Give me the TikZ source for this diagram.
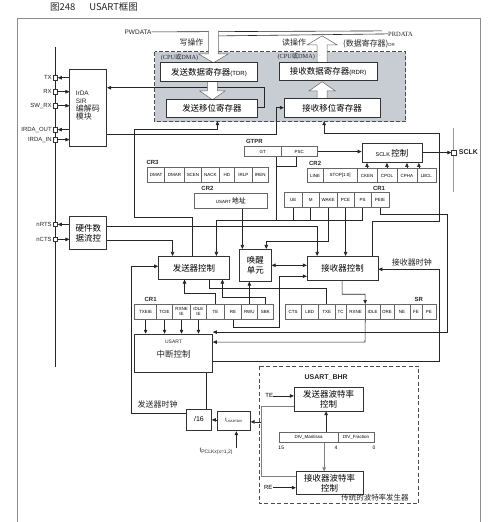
\documentclass[tikz,border=0pt]{standalone}
\usepackage{fontspec}
\setmainfont{Liberation Sans}
\newfontfamily\cjk{Noto Sans CJK SC}
\newfontfamily\serf{Liberation Serif}
\usetikzlibrary{arrows.meta}
\pgfdeclarelayer{bgl}
\pgfdeclarelayer{wl}
\pgfsetlayers{bgl,wl,main}
\newcommand{\mkbox}[7][bx]{%
  \node[#1, minimum width={(#4)-(#3)}, minimum height={(#6)-(#5)}] (#2) at ({((#3)+(#4))/2},{((#5)+(#6))/2}) {#7};}
\tikzset{
  bx/.style={draw=black!80, fill=white, line width=0.7pt, inner sep=0pt, align=center},
  bxc/.style={bx, font=\cjk\fontsize{8.5}{10}\selectfont},
  cell/.style={draw=black!60, fill=white, line width=0.4pt, inner sep=0pt, align=center, font=\fontsize{4.5}{4.8}\selectfont},
  wire/.style={draw=black!85, line width=0.6pt},
  arr/.style={wire, -{Triangle[length=4pt,width=3.5pt]}},
  lbl/.style={font=\bfseries\fontsize{6}{7}\selectfont, inner sep=0pt, text=black!85},
  plbl/.style={font=\fontsize{6}{7}\selectfont, inner sep=0pt, anchor=east, text=black!85},
  pinsq/.style={draw=black!80, fill=white, line width=0.4pt, minimum size=4.5pt, inner sep=0pt},
  txt/.style={font=\cjk\fontsize{8}{9}\selectfont, inner sep=0pt, text=black!85},
  hollow/.style={draw=black!60, fill=white, line width=0.5pt, line join=miter},
}
\begin{document}
\begin{tikzpicture}[x=1pt,y=-1pt]
\begin{pgfonlayer}{bgl}
\fill[white] (0,0) rectangle (500,522);
\draw[black!45, line width=0.8pt] (17,523) -- (17,18) -- (482,18) -- (482,523);
\filldraw[fill={rgb,255:red,200;green,204;blue,211}, draw=black!70, line width=0.9pt, dash pattern=on 4pt off 2pt] (155,52) rectangle (407,122);
\draw[black!70, line width=0.8pt, dash pattern=on 4pt off 2.5pt] (260,367) rectangle (420,505);
\end{pgfonlayer}
\useasboundingbox (0,0) rectangle (500,522);

% title
\node[anchor=west, font=\cjk\fontsize{9.5}{11}\selectfont, inner sep=0pt, text=black!85] (title) at (50,7) {图248\hspace{14pt}USART框图};

% hollow arrows (data paths)
\path[hollow] (209,31) -- (209,54) -- (199,54) -- (214,63) -- (229,54) -- (219,54) -- (219,31);
\path[hollow] (318,63) -- (318,45) -- (308,45) -- (323,36) -- (338,45) -- (328,45) -- (328,63);
\path[hollow] (208,82) -- (208,91) -- (200,91) -- (213,100) -- (226,91) -- (218,91) -- (218,82);
\path[hollow] (318,99) -- (318,91) -- (310,91) -- (323,82) -- (336,91) -- (328,91) -- (328,99);

% bus labels
\node[plbl, font=\fontsize{6.5}{7}\selectfont] (pw) at (152,32) {PWDATA};
\node[anchor=west, inner sep=0pt, font=\serf\fontsize{6.5}{7}\selectfont, text=black!85] (pr) at (389,34) {PRDATA};
\node[txt] (wr) at (192,43) {写操作};
\node[txt] (rd) at (295,43) {读操作};
\node[txt] (dr) at (370,44) {(数据寄存器){\rmfamily\fontsize{4.5}{5}\selectfont DR}};
\node[inner sep=0pt, font=\serf\fontsize{6.3}{7}\selectfont, text=black!85] (cpu1) at (180,57.5) {(CPU{\cjk 或}DMA)};
\node[inner sep=0pt, font=\serf\fontsize{6.3}{7}\selectfont, text=black!85] (cpu2) at (297,57) {(CPU{\cjk 或}DMA)};

% main boxes
\mkbox{irda}{70}{107}{70}{147}{}
\node[align=left, inner sep=0pt, font=\fontsize{6.5}{8}\selectfont, text=black!85] (irdat) at (88,106) {IrDA\\SIR\\{\cjk\fontsize{8}{8}\selectfont 编解码}\\{\cjk\fontsize{8}{8}\selectfont 模块}};
\mkbox[bxc]{tdr}{161}{258}{63}{82}{发送数据寄存器{\rmfamily\fontsize{6}{7}\selectfont(TDR)}}
\mkbox[bxc]{rdr}{280}{378}{63}{81}{接收数据寄存器{\rmfamily\fontsize{6}{7}\selectfont(RDR)}}
\mkbox[bxc]{txs}{167}{258}{100}{118}{发送移位寄存器}
\mkbox[bxc]{rxs}{285}{381}{99}{118}{接收移位寄存器}

% GTPR, SCLK
\node[lbl] (lgtpr) at (255,142) {GTPR};
\mkbox[cell]{gt}{245}{282}{147}{157}{GT}
\mkbox[cell]{psc}{282}{318}{147}{157}{PSC}
\mkbox[bxc]{sclk}{363}{423}{144}{163}{{\rmfamily\fontsize{5.5}{6}\selectfont SCLK}\,控制}

% CR2 (clock bits)
\node[lbl] (lcr2b) at (316,164) {CR2};
\mkbox[cell]{c2line}{308}{324}{169}{183}{LINE}
\mkbox[cell]{c2stop}{324}{358}{169}{183}{STOP[1:0]}
\mkbox[cell]{c2cken}{358}{378}{169}{183}{CKEN}
\mkbox[cell]{c2cpol}{378}{398}{169}{183}{CPOL}
\mkbox[cell]{c2cpha}{398}{418}{169}{183}{CPHA}
\mkbox[cell]{c2lbcl}{418}{437}{169}{183}{LBCL}

% CR3
\node[lbl] (lcr3) at (153,163) {CR3};
\mkbox[cell]{c3dmat}{148}{165}{168}{183}{DMAT}
\mkbox[cell]{c3dmar}{165}{185}{168}{183}{DMAR}
\mkbox[cell]{c3scen}{185}{202}{168}{183}{SCEN}
\mkbox[cell]{c3nack}{202}{220}{168}{183}{NACK}
\mkbox[cell]{c3hd}{220}{235}{168}{183}{HD}
\mkbox[cell]{c3irlp}{235}{253}{168}{183}{IRLP}
\mkbox[cell]{c3iren}{253}{269}{168}{183}{IREN}

% CR2 address
\node[lbl] (lcr2a) at (208,189) {CR2};
\mkbox[cell]{addr}{195}{268}{194}{209}{{\fontsize{4.5}{5}\selectfont USART}\,{\cjk\fontsize{7}{8}\selectfont 地址}}

% CR1 upper
\node[lbl] (lcr1a) at (380,189) {CR1};
\mkbox[cell]{c1ue}{285}{303}{193}{208}{UE}
\mkbox[cell]{c1m}{303}{320}{193}{208}{M}
\mkbox[cell]{c1wake}{320}{338}{193}{208}{WAKE}
\mkbox[cell]{c1pce}{338}{355}{193}{208}{PCE}
\mkbox[cell]{c1ps}{355}{372}{193}{208}{PS}
\mkbox[cell]{c1peie}{372}{390}{193}{208}{PEIE}

% control blocks
\mkbox[bxc]{hw}{70}{107}{217}{250}{硬件数\\据流控}
\mkbox[bxc]{txc}{159}{230}{257}{280}{发送器控制}
\mkbox[bxc]{wk}{240}{272}{250}{282}{唤醒\\单元}
\mkbox[bxc]{rxc}{308}{379}{257}{281}{接收器控制}

% CR1 lower
\node[lbl] (lcr1b) at (151,300) {CR1};
\mkbox[cell]{c1txeie}{135}{157}{305}{320}{TXEIE}
\mkbox[cell]{c1tcie}{157}{173}{305}{320}{TCIE}
\mkbox[cell]{c1rxneie}{173}{191}{305}{320}{RXNE\\IE}
\mkbox[cell]{c1idleie}{191}{207}{305}{320}{IDLE\\IE}
\mkbox[cell]{c1te}{207}{225}{305}{320}{TE}
\mkbox[cell]{c1re}{225}{242}{305}{320}{RE}
\mkbox[cell]{c1rwu}{242}{258}{305}{320}{RWU}
\mkbox[cell]{c1sbk}{258}{274}{305}{320}{SBK}

% SR
\node[lbl] (lsr) at (420,300) {SR};
\mkbox[cell]{srcts}{286}{302}{305}{320}{CTS}
\mkbox[cell]{srlbd}{302}{319}{305}{320}{LBD}
\mkbox[cell]{srtxe}{319}{336}{305}{320}{TXE}
\mkbox[cell]{srtc}{336}{347}{305}{320}{TC}
\mkbox[cell]{srrxne}{347}{366}{305}{320}{RXNE}
\mkbox[cell]{sridle}{366}{381}{305}{320}{IDLE}
\mkbox[cell]{srore}{381}{395}{305}{320}{ORE}
\mkbox[cell]{srne}{395}{411}{305}{320}{NE}
\mkbox[cell]{srfe}{411}{423}{305}{320}{FE}
\mkbox[cell]{srpe}{423}{437}{305}{320}{PE}

% interrupt control
\mkbox{intc}{135}{213}{335}{373}{}
\node[inner sep=0pt, align=center, text=black!85] (intct) at (174,350) {{\fontsize{5}{6}\selectfont USART}\\[2pt]{\cjk\fontsize{8.5}{9}\selectfont 中断控制}};

% clock section
\mkbox{d16}{187}{212}{410}{431}{{\fontsize{7}{8}\selectfont /16}}
\mkbox{udiv}{218}{251}{412}{432}{{\fontsize{4.5}{5}\selectfont f\textsubscript{USARTDIV}}}
\node[anchor=west, inner sep=0pt, text=black!85] (fpclk) at (200,453) {{\fontsize{6}{7}\selectfont f}\raisebox{-1pt}{\fontsize{5}{6}\selectfont PCLKx(x=1,2)}};
\node[txt] (ltxclk) at (158,406) {发送器时钟};
\node[txt] (lrxclk) at (413,263) {接收器时钟};

% baud rate generator
\node[lbl, font=\bfseries\fontsize{7}{8}\selectfont] (lbhr) at (327,378) {USART\_BHR};
\mkbox[bxc]{txb}{295}{364}{388}{412}{发送器波特率\\控制}
\mkbox[cell]{mant}{280}{339}{433}{443}{DIV\_Mantissa}
\mkbox[cell]{frac}{339}{375}{433}{443}{DIV\_Fraction}
\node[inner sep=0pt, font=\fontsize{5}{6}\selectfont] (n15) at (282,449) {15};
\node[inner sep=0pt, font=\fontsize{5}{6}\selectfont] (n4) at (337,449) {4};
\node[inner sep=0pt, font=\fontsize{5}{6}\selectfont] (n0) at (375,449) {0};
\mkbox[bxc]{rxb}{297}{364}{473}{496}{接收器波特率\\控制}
\node[txt, font=\cjk\fontsize{7.5}{8}\selectfont] (lgen) at (376,499) {传统的波特率发生器};
\node[inner sep=0pt, font=\fontsize{6}{7}\selectfont] (tel) at (270,397) {TE};
\node[inner sep=0pt, font=\fontsize{6}{7}\selectfont] (rel) at (269,489) {RE};

% pins
\node[pinsq] (ptx) at (55.5,78) {};
\node[pinsq] (prx) at (55.5,92) {};
\node[pinsq] (pswrx) at (55.5,106) {};
\node[pinsq] (pio) at (55.5,130) {};
\node[pinsq] (pii) at (55.5,140) {};
\node[pinsq] (prts) at (55.5,225) {};
\node[pinsq] (pcts) at (55.5,240) {};
\node[pinsq] (psclk) at (455,153) {};
\node[plbl] (ltx) at (52,78) {TX};
\node[plbl] (lrx) at (52,92) {RX};
\node[plbl] (lswrx) at (52,106) {SW\_RX};
\node[plbl] (lio) at (52,130) {IRDA\_OUT};
\node[plbl] (lii) at (52,140) {IRDA\_IN};
\node[plbl] (lrts) at (52,225) {nRTS};
\node[plbl] (lcts) at (52,240) {nCTS};
\node[lbl, anchor=west, font=\bfseries\fontsize{7}{8}\selectfont] (lsclk) at (460,153) {SCLK};

\begin{pgfonlayer}{wl}
% buses
\draw[black!85, line width=1pt] (55.5,47) -- (55.5,368);
\draw[black!40, line width=0.8pt] (455,128) -- (455,193);
\draw[wire] (pw.east) -- (383,31);
\draw[wire] (219,36) -- (pr.west);
% pins
\draw[arr] (irda.west |- ptx) -- (ptx.east);
\draw[arr] (prx.east) -- (irda.west |- prx);
\draw[arr] (pswrx.east) -- (irda.west |- pswrx);
\draw[arr] (irda.west |- pio) -- (pio.east);
\draw[arr] (pii.east) -- (irda.west |- pii);
\draw[arr] (hw.west |- prts) -- (prts.east);
\draw[arr] (pcts.east) -- (hw.west |- pcts);
% data paths
\draw[arr] (txs.east |- 0,108) -- (265,108) -- (265,88) -- (irda.east |- 0,88);
\draw[arr] (irda.east |- 0,135) -- (277,135) -- (277,108) -- (rxs.west |- 0,108);
\draw[arr] (txc.north -| 193,0) -- (193,218) -- (135,218) -- (135,130) -- (218,130) -- (218,121.5);
\draw[arr] (rxc.north -| 373,0) -- (373,222) -- (440,222) -- (440,134) -- (325,134) -- (325,121.5);
% sclk
\draw[arr, line width=1.1pt] (psc.east) -- (sclk.west |- psc.east);
\draw[arr] (sclk.east |- psclk) -- (psclk.west);
\draw[arr] (c2cken.north) -- (c2cken.north |- sclk.south);
\draw[arr] (c2cpol.north) -- (c2cpol.north |- sclk.south);
\draw[arr] (c2cpha.north) -- (c2cpha.north |- sclk.south);
\draw[arr] (c2lbcl.north -| 420,0) -- (sclk.south -| 420,0);
% GTPR / CR1 control lines
\draw[wire] (gt.south -| 277,0) -- (277,221);
\draw[wire] (psc.south -| 297,0) -- (297,167) -- (277,167);
\draw[arr] (c1ps.south) -- (c1ps.south |- 0,221) -- (217,221) -- (txc.north -| 217,0);
\draw[wire] (c1ue.south) -- (c1ue.south |- 0,221);
\draw[wire] (c1m.south) -- (c1m.south |- 0,221);
\draw[arr] (hw.east |- 0,227) -- (318,227) -- (rxc.north -| 318,0);
\draw[arr] (hw.east |- 0,241) -- (173,241) -- (txc.north -| 173,0);
\draw[arr] (addr.south -| 243,0) -- (wk.north -| 243,0);
\draw[arr] (c1wake.south) -- (c1wake.south |- 0,242) -- (267,242) -- (wk.north -| 267,0);
\draw[arr] (c1pce.south) -- (c1pce.south |- rxc.north);
\draw[arr] (c1peie.south) -- (c1peie.south |- 0,215) -- (448,215) -- (448,333) -- (intc.east |- 0,333);
\draw[wire, {Triangle[length=4pt,width=3.5pt]}-{Triangle[length=4pt,width=3.5pt]}] (wk.east |- 0,266) -- (rxc.west |- 0,266);
% CR1 lower lines
\draw[arr] (c1re.south) -- (c1re.south |- 0,328) -- (280,328) -- (280,277) -- (rxc.west |- 0,277);
\draw[arr] (c1te.north) -- (c1te.north |- 0,294) -- (185,294) -- (txc.south -| 185,0);
\draw[arr] (c1sbk.north) -- (c1sbk.north |- 0,298) -- (223,298) -- (txc.south -| 223,0);
\draw[arr] (c1rwu.north) -- (c1rwu.north |- wk.south);
\draw[wire] (txc.south -| 210,0) -- (210,289) -- (327,289) -- (srtxe.north -| 327,0);
\draw[arr] (rxc.south -| 343,0) -- (343,295) -- (366,295) -- (srrxne.north east);
\draw[arr] (srrxne.south east) -- (366,343) -- (intc.east |- 0,343);
\draw[arr] (c1txeie.south) -- (c1txeie.south |- intc.north);
\draw[arr] (c1tcie.south) -- (c1tcie.south |- intc.north);
\draw[arr] (c1rxneie.south) -- (c1rxneie.south |- intc.north);
\draw[arr] (c1idleie.south) -- (c1idleie.south |- intc.north);
% clocks
\draw[arr] (d16.north -| 207,0) -- (207,362) -- (440,362) -- (440,270) -- (rxc.east |- 0,270);
\draw[arr] (d16.west |- 0,414) -- (132,414) -- (132,267) -- (txc.west |- 0,267);
\draw[arr] (udiv.west |- 0,421) -- (d16.east |- 0,421);
\draw[arr] (fpclk.north -| 237,0) -- (udiv.south -| 237,0);
\draw[wire, black!50] (txb.west |- 0,407) -- (262,407) -- (262,478) -- (rxb.west |- 0,478);
\draw[arr] (262,423) -- (udiv.east |- 0,423);
\draw[arr] (tel.east) -- (txb.west |- tel.east);
\draw[arr] (rel.east) -- (rxb.west |- rel.east);
\draw[arr, line width=1.2pt] (mant.north -| 327,0) -- (txb.south -| 327,0);
\draw[arr, draw=black!50, line width=1pt] (mant.south -| 325,0) -- (rxb.north -| 325,0);
\end{pgfonlayer}
\end{tikzpicture}
\end{document}
